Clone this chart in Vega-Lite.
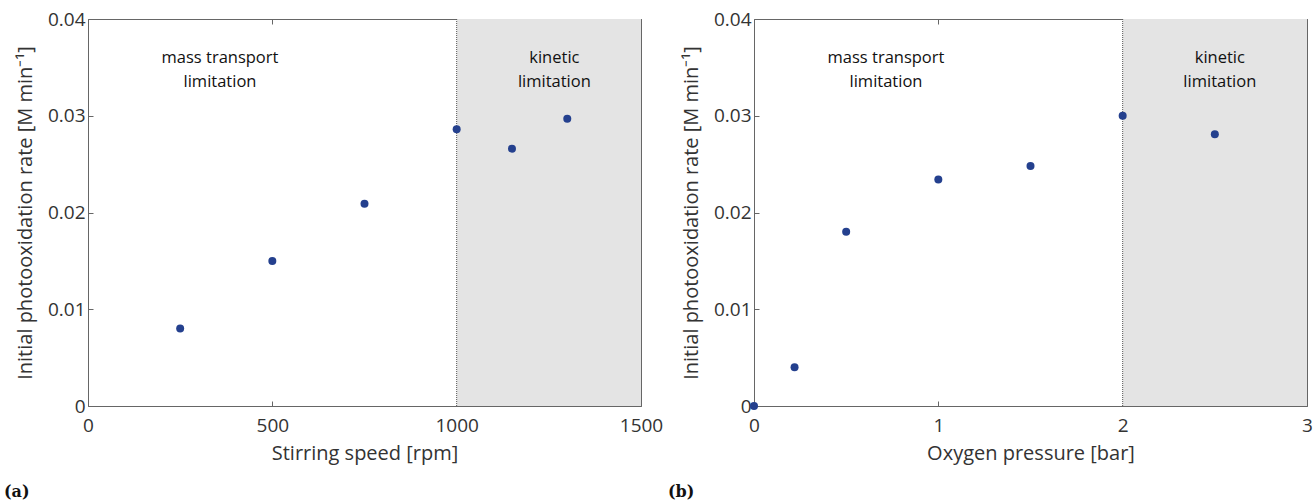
{
  "$schema": "https://vega.github.io/schema/vega-lite/v6.json",
  "padding": {"left": 4, "top": 10, "right": 2, "bottom": 5},
  "spacing": 5,
  "config": {
    "view": {"stroke": null},
    "axis": {
      "grid": false,
      "domainColor": "#666666",
      "tickColor": "#666666",
      "tickSize": -5,
      "labelPadding": 8,
      "labelFlush": false,
      "labelFont": "Open Sans",
      "labelFontSize": 19,
      "labelColor": "#333333",
      "titleFont": "Open Sans",
      "titleFontSize": 20,
      "titleFontWeight": "normal",
      "titleColor": "#333333"
    },
    "axisX": {"labelPadding": 15, "titlePadding": 8},
    "title": {"font": "DejaVu Serif", "fontSize": 16, "fontWeight": "bold", "color": "#111111"}
  },
  "datasets": {
    "ptsA": [
      {"speed": 250, "rate": 0.0080},
      {"speed": 500, "rate": 0.0150},
      {"speed": 750, "rate": 0.0209},
      {"speed": 1000, "rate": 0.0286},
      {"speed": 1150, "rate": 0.0266},
      {"speed": 1300, "rate": 0.0297}
    ],
    "ptsB": [
      {"pressure": 0, "rate": 0.0},
      {"pressure": 0.22, "rate": 0.0040},
      {"pressure": 0.5, "rate": 0.0180},
      {"pressure": 1.0, "rate": 0.0234},
      {"pressure": 1.5, "rate": 0.0248},
      {"pressure": 2.0, "rate": 0.0300},
      {"pressure": 2.5, "rate": 0.0281}
    ],
    "regA": [{"x0": 1000, "x1": 1500, "y0": 0, "y1": 0.04}],
    "regB": [{"x0": 2, "x1": 3, "y0": 0, "y1": 0.04}],
    "ruleA": [{"x": 1000}],
    "ruleB": [{"x": 2}],
    "annA": [
      {"x": 358, "y": 0.0368, "t": "mass transport|limitation"},
      {"x": 1265, "y": 0.0368, "t": "kinetic|limitation"}
    ],
    "annB": [
      {"x": 0.716, "y": 0.0368, "t": "mass transport|limitation"},
      {"x": 2.527, "y": 0.0368, "t": "kinetic|limitation"}
    ]
  },
  "hconcat": [
    {
      "width": 553,
      "height": 387,
      "title": {"text": "(a)", "orient": "bottom", "anchor": "start", "frame": "group", "dx": -84, "offset": 21},
      "resolve": {"axis": {"x": "independent", "y": "independent"}},
      "layer": [
        {
          "data": {"name": "regA"},
          "mark": {"type": "rect", "color": "#e4e4e4"},
          "encoding": {
            "x": {"field": "x0", "type": "quantitative", "scale": {"domain": [0, 1500], "nice": false}, "axis": {"orient": "top", "labels": false, "title": null, "values": [0, 500, 1000, 1500]}},
            "x2": {"field": "x1"},
            "y": {"field": "y0", "type": "quantitative", "scale": {"domain": [0, 0.04], "nice": false}, "axis": {"orient": "right", "labels": false, "title": null, "values": [0, 0.01, 0.02, 0.03, 0.04]}},
            "y2": {"field": "y1"}
          }
        },
        {
          "data": {"name": "ruleA"},
          "mark": {"type": "rule", "color": "#555555", "strokeDash": [1, 1], "strokeWidth": 1},
          "encoding": {"x": {"field": "x", "type": "quantitative", "axis": null}}
        },
        {
          "data": {"name": "annA"},
          "mark": {"type": "text", "font": "Open Sans", "fontSize": 16.5, "color": "#111111", "lineBreak": "|", "baseline": "top", "lineHeight": 24, "align": "center"},
          "encoding": {
            "x": {"field": "x", "type": "quantitative", "axis": null},
            "y": {"field": "y", "type": "quantitative", "axis": null},
            "text": {"field": "t"}
          }
        },
        {
          "data": {"name": "ptsA"},
          "mark": {"type": "point", "filled": true, "size": 64, "color": "#24408e", "opacity": 1},
          "encoding": {
            "x": {"field": "speed", "type": "quantitative", "title": "Stirring speed [rpm]", "axis": {"values": [0, 500, 1000, 1500], "format": "d"}},
            "y": {"field": "rate", "type": "quantitative", "title": "Initial photooxidation rate [M min⁻¹]", "axis": {"values": [0, 0.01, 0.02, 0.03, 0.04], "format": "~g", "titlePadding": 12}}
          }
        }
      ]
    },
    {
      "width": 553,
      "height": 387,
      "title": {"text": "(b)", "orient": "bottom", "anchor": "start", "frame": "group", "dx": -86, "offset": 21},
      "resolve": {"axis": {"x": "independent", "y": "independent"}},
      "layer": [
        {
          "data": {"name": "regB"},
          "mark": {"type": "rect", "color": "#e4e4e4"},
          "encoding": {
            "x": {"field": "x0", "type": "quantitative", "scale": {"domain": [0, 3], "nice": false}, "axis": {"orient": "top", "labels": false, "title": null, "values": [0, 1, 2, 3]}},
            "x2": {"field": "x1"},
            "y": {"field": "y0", "type": "quantitative", "scale": {"domain": [0, 0.04], "nice": false}, "axis": {"orient": "right", "labels": false, "title": null, "values": [0, 0.01, 0.02, 0.03, 0.04]}},
            "y2": {"field": "y1"}
          }
        },
        {
          "data": {"name": "ruleB"},
          "mark": {"type": "rule", "color": "#555555", "strokeDash": [1, 1], "strokeWidth": 1},
          "encoding": {"x": {"field": "x", "type": "quantitative", "axis": null}}
        },
        {
          "data": {"name": "annB"},
          "mark": {"type": "text", "font": "Open Sans", "fontSize": 16.5, "color": "#111111", "lineBreak": "|", "baseline": "top", "lineHeight": 24, "align": "center"},
          "encoding": {
            "x": {"field": "x", "type": "quantitative", "axis": null},
            "y": {"field": "y", "type": "quantitative", "axis": null},
            "text": {"field": "t"}
          }
        },
        {
          "data": {"name": "ptsB"},
          "mark": {"type": "point", "filled": true, "size": 64, "color": "#24408e", "opacity": 1},
          "encoding": {
            "x": {"field": "pressure", "type": "quantitative", "title": "Oxygen pressure [bar]", "axis": {"values": [0, 1, 2, 3], "format": "d"}},
            "y": {"field": "rate", "type": "quantitative", "title": "Initial photooxidation rate [M min⁻¹]", "axis": {"values": [0, 0.01, 0.02, 0.03, 0.04], "format": "~g", "titlePadding": 12}}
          }
        }
      ]
    }
  ]
}
